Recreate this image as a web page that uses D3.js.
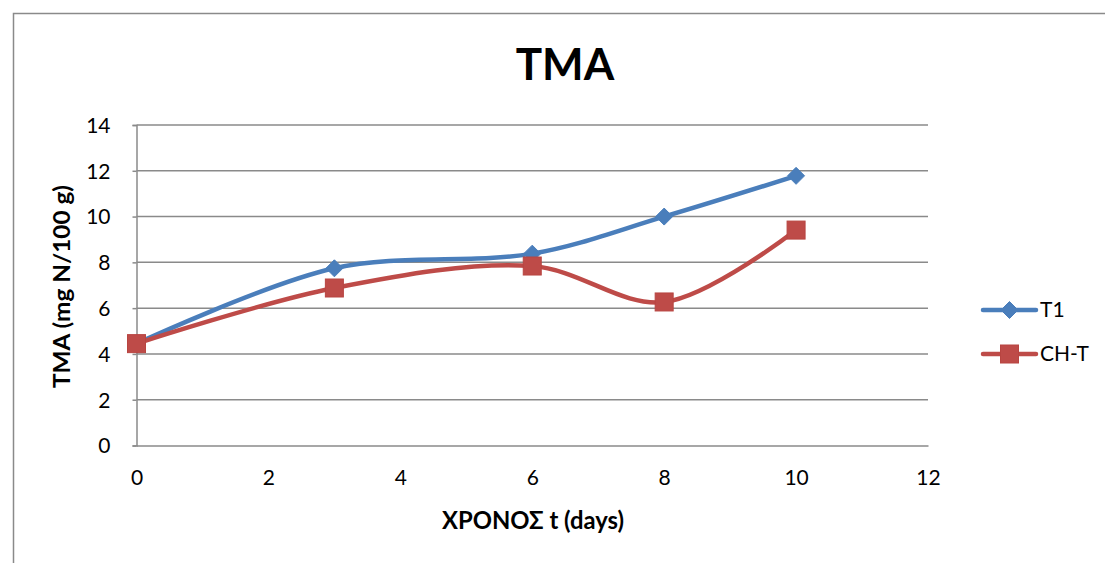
<!DOCTYPE html>
<html>
<head>
<meta charset="utf-8">
<script src="https://cdn.jsdelivr.net/npm/d3@7"></script>
<style>
  html, body { margin: 0; padding: 0; background: #fff; }
  svg { display: block; }
  text { font-family: Lato, "Open Sans", "Liberation Sans", sans-serif; fill: #000; }
</style>
</head>
<body>
<svg id="chart" width="1105" height="563"></svg>
<script>
// Sampling days and TMA measurements (mg N / 100 g)
const days = [0, 3, 6, 8, 10];
const t1Values = [4.45, 7.74, 8.38, 10.0, 11.78];
const chtValues = [4.45, 6.88, 7.84, 6.27, 9.41];
const seriesNames = ["T1", "CH-T"];
const xTicks = [0, 2, 4, 6, 8, 10, 12];
const yTicks = [0, 2, 4, 6, 8, 10, 12, 14];

const svg = d3.select("#chart");
const W = 1105, H = 563;

// Outer chart-area frame
svg.append("path")
  .attr("d", `M13.5,${H} V13.5 H${W}`)
  .attr("fill", "none")
  .attr("stroke", "#8a8a8a")
  .attr("stroke-width", 1.5);

const plot = { left: 136.5, right: 928, top: 125, bottom: 445.5 };

const x = d3.scaleLinear().domain([0, 12]).range([plot.left, plot.right]);
const y = d3.scaleLinear().domain([0, 14]).range([plot.bottom, plot.top]);

// Horizontal gridlines
svg.append("g")
  .selectAll("line")
  .data(yTicks.filter(v => v > 0))
  .join("line")
  .attr("x1", plot.left).attr("x2", plot.right)
  .attr("y1", d => y(d)).attr("y2", d => y(d))
  .attr("stroke", "#8a8a8a")
  .attr("stroke-width", 1.5);

// Axes
const xAxis = svg.append("g")
  .attr("transform", `translate(0,${plot.bottom})`)
  .call(d3.axisBottom(x).tickValues(xTicks).tickSize(0).tickPadding(25).tickFormat(d3.format("d")));
const yAxis = svg.append("g")
  .attr("transform", `translate(${plot.left},0)`)
  .call(d3.axisLeft(y).tickValues(yTicks).tickSize(4).tickPadding(22).tickFormat(d3.format("d")));

[xAxis, yAxis].forEach(g => {
  g.select(".domain").attr("stroke", "#8a8a8a").attr("stroke-width", 1.5);
  g.selectAll(".tick line").attr("stroke", "#8a8a8a").attr("stroke-width", 1.5);
  g.selectAll("text")
    .style("font-family", "Lato, 'Open Sans', sans-serif")
    .style("font-size", "21px")
    .attr("fill", "#000");
});
yAxis.selectAll("text").attr("dy", "0.35em").attr("text-anchor", "end");
xAxis.selectAll("text").attr("dy", "0.71em");

// Series
const series = [
  { name: seriesNames[0], values: t1Values, color: "#4a7ebb", marker: "diamond" },
  { name: seriesNames[1], values: chtValues, color: "#be4b48", marker: "square" }
];

const line = d3.line()
  .x(d => x(d[0]))
  .y(d => y(d[1]))
  .curve(d3.curveCatmullRom.alpha(0.5));

function drawMarker(g, type, cx, cy, color) {
  if (type === "diamond") {
    const r = 8.5;
    g.append("path")
      .attr("d", `M${cx},${cy - r} L${cx + r},${cy} L${cx},${cy + r} L${cx - r},${cy} Z`)
      .attr("fill", color)
      .attr("stroke", color)
      .attr("stroke-width", 1);
  } else {
    const s = 18;
    g.append("rect")
      .attr("x", cx - s / 2).attr("y", cy - s / 2)
      .attr("width", s).attr("height", s)
      .attr("fill", color)
      .attr("stroke", "#b84541")
      .attr("stroke-width", 1);
  }
}

series.forEach(s => {
  const pts = days.map((d, i) => [d, s.values[i]]);
  const g = svg.append("g");
  g.append("path")
    .attr("d", line(pts))
    .attr("fill", "none")
    .attr("stroke", s.color)
    .attr("stroke-width", 4.5)
    .attr("stroke-linecap", "round")
    .attr("stroke-linejoin", "round");
  pts.forEach(p => drawMarker(g, s.marker, x(p[0]), y(p[1]), s.color));
});

// Legend
const legend = svg.append("g");
series.forEach((s, i) => {
  const ly = 310 + i * 44;
  const g = legend.append("g");
  g.append("line")
    .attr("x1", 983).attr("x2", 1036)
    .attr("y1", ly).attr("y2", ly)
    .attr("stroke", s.color)
    .attr("stroke-width", 4.5)
    .attr("stroke-linecap", "round");
  drawMarker(g, s.marker, 1009.5, ly, s.color);
  g.append("text")
    .attr("x", 1040).attr("y", ly)
    .attr("dy", "0.35em")
    .style("font-size", "21px")
    .text(s.name);
});

// Title
svg.append("text")
  .attr("x", 565).attr("y", 80)
  .attr("text-anchor", "middle")
  .style("font-size", "44px")
  .style("font-weight", "bold")
  .text("TMA");

// Axis titles
svg.append("text")
  .attr("x", 533).attr("y", 529)
  .attr("text-anchor", "middle")
  .style("font-size", "24px")
  .style("font-weight", "bold")
  .attr("textLength", 182)
  .attr("lengthAdjust", "spacingAndGlyphs")
  .text("ΧΡΟΝΟΣ t (days)");

svg.append("text")
  .attr("transform", "translate(70,286.5) rotate(-90)")
  .attr("text-anchor", "middle")
  .style("font-size", "23px")
  .style("font-weight", "bold")
  .attr("textLength", 203)
  .attr("lengthAdjust", "spacingAndGlyphs")
  .text("TMA (mg N/100 g)");
</script>
</body>
</html>
